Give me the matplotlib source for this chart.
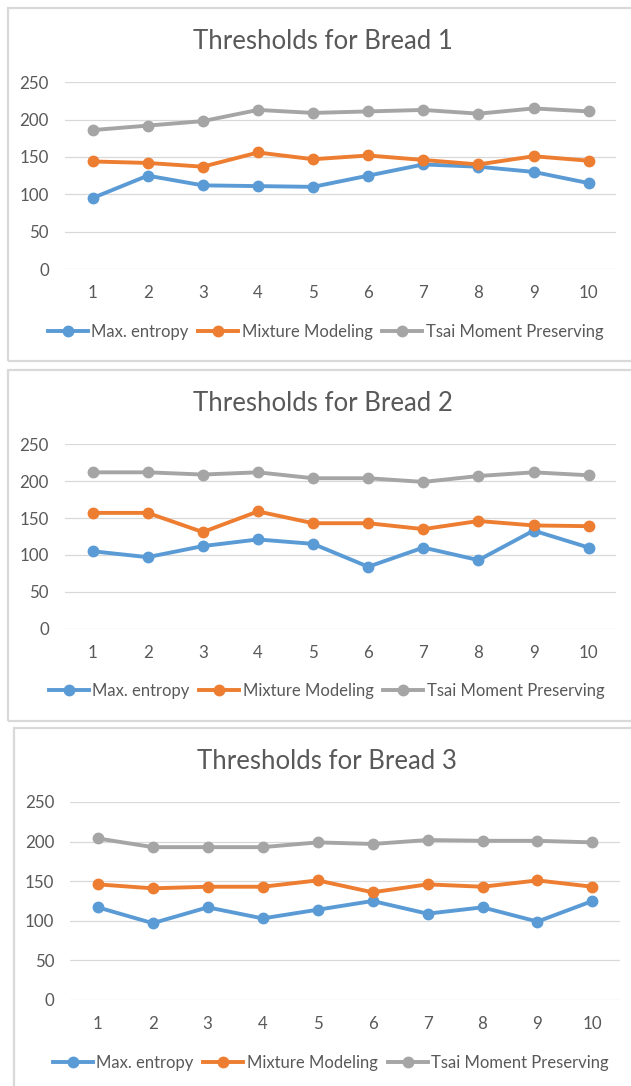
import matplotlib
matplotlib.use("Agg")
import matplotlib.pyplot as plt
from matplotlib.patches import Rectangle

plt.rcParams['font.family'] = ['Lato', 'DejaVu Sans']

samples = list(range(1, 11))
series_names = ["Max. entropy", "Mixture Modeling", "Tsai Moment Preserving"]
titles = ["Thresholds for Bread 1", "Thresholds for Bread 2", "Thresholds for Bread 3"]
y_ticks = [0, 50, 100, 150, 200, 250]

bread1_max_entropy = [95, 125, 112, 111, 110, 125, 140, 137, 130, 115]
bread1_mixture = [144, 142, 137, 156, 147, 152, 146, 140, 151, 145]
bread1_tsai = [186, 192, 198, 213, 209, 211, 213, 208, 215, 211]

bread2_max_entropy = [105, 97, 112, 121, 115, 84, 110, 93, 133, 110]
bread2_mixture = [157, 157, 131, 159, 143, 143, 135, 146, 140, 139]
bread2_tsai = [212, 212, 209, 212, 204, 204, 199, 207, 212, 208]

bread3_max_entropy = [117, 97, 117, 103, 114, 125, 109, 117, 99, 125]
bread3_mixture = [146, 141, 143, 143, 151, 136, 146, 143, 151, 143]
bread3_tsai = [204, 193, 193, 193, 199, 197, 202, 201, 201, 199]

data = [
    (bread1_max_entropy, bread1_mixture, bread1_tsai),
    (bread2_max_entropy, bread2_mixture, bread2_tsai),
    (bread3_max_entropy, bread3_mixture, bread3_tsai),
]

colors = ["#5B9BD5", "#ED7D31", "#A5A5A5"]
text_color = "#595959"
grid_color = "#D9D9D9"

W, H = 631, 1086
fig = plt.figure(figsize=(W / 100, H / 100), dpi=100)

# layout in pixels
axes_px = [  # x0, x1, ytop, ybottom
    (65, 616.3, 82.3, 269),
    (65, 616.3, 444.3, 628.7),
    (70.3, 619.9, 802, 1000),
]
title_px = [(322.8, 41.7), (322.8, 403.7), (327.4, 761.3)]
legend_px = [(325.5, 332.3), (326.5, 691), (330.6, 1063)]
boxes_px = [  # x0, ytop, x1, ybottom
    (7.5, 8, 640, 361),
    (7.5, 369.5, 640, 721),
    (13.5, 728, 640, 1095),
]

for (x0, yt, x1, yb) in boxes_px:
    fig.patches.append(Rectangle((x0 / W, 1 - yb / H), (x1 - x0) / W, (yb - yt) / H,
                                 transform=fig.transFigure, fill=False,
                                 edgecolor="#D9D9D9", linewidth=1.6))

for i in range(3):
    x0, x1, yt, yb = axes_px[i]
    ax = fig.add_axes([x0 / W, 1 - yb / H, (x1 - x0) / W, (yb - yt) / H])
    for s in range(3):
        ax.plot(samples, data[i][s], color=colors[s], linewidth=2.8, marker='o',
                markersize=7.5, label=series_names[s], zorder=3 + s)
    ax.set_xlim(0.5, 10.5)
    ax.set_ylim(0, 250)
    ax.set_yticks(y_ticks)
    ax.set_xticks(samples)
    ax.grid(axis='y', color=grid_color, linewidth=0.9)
    ax.set_axisbelow(True)
    for sp in ax.spines.values():
        sp.set_visible(False)
    ax.tick_params(axis='both', length=0, labelsize=12.2, labelcolor=text_color)
    ax.tick_params(axis='y', pad=11.5)
    ax.tick_params(axis='x', pad=11.5)
    tx, ty = title_px[i]
    fig.text(tx / W, 1 - ty / H, titles[i], ha='center', va='center',
             fontsize=18.5, color=text_color)
    lx, ly = legend_px[i]
    ax.legend(loc='center', bbox_to_anchor=(lx / W, 1 - ly / H),
              bbox_transform=fig.transFigure, ncol=3, frameon=False,
              fontsize=12, labelcolor=text_color, handlelength=2.4,
              handletextpad=0.2, columnspacing=0.6, borderaxespad=0,
              borderpad=0)

fig.savefig("out.png", dpi=100, facecolor="white")
